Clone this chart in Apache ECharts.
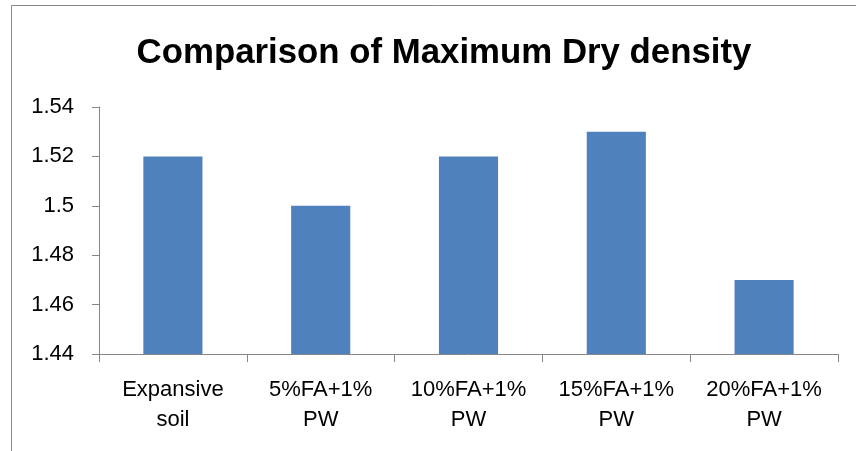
<!DOCTYPE html>
<html>
<head>
<meta charset="utf-8">
<script src="https://cdn.jsdelivr.net/npm/echarts@6/dist/echarts.min.js"></script>
<style>
  html, body { margin: 0; padding: 0; background: #fff; }
  #chart { width: 856px; height: 451px; }
</style>
</head>
<body>
<div id="chart"></div>
<script>
// Maximum dry density for each soil mix
const categories = ['Expansive soil', '5%FA+1% PW', '10%FA+1% PW', '15%FA+1% PW', '20%FA+1% PW'];
const densityValues = [1.52, 1.50, 1.52, 1.53, 1.47];
const yTicks = { min: 1.44, max: 1.54, step: 0.02 };

const chart = echarts.init(document.getElementById('chart'), null, { renderer: 'canvas' });
const font = 'Liberation Sans, Arial, sans-serif';
const axisGray = '#868686';

chart.setOption({
  animation: false,
  title: {
    text: 'Comparison of Maximum Dry density',
    left: 439,
    top: 31,
    textAlign: 'center',
    textStyle: { fontFamily: font, fontWeight: 'bold', fontSize: 34.8, color: '#000' }
  },
  graphic: [{
    type: 'rect',
    shape: { x: 11.5, y: 5.5, width: 900, height: 600 },
    style: { fill: 'none', stroke: '#878787', lineWidth: 1 },
    silent: true
  }],
  grid: { left: 99, right: 18, top: 107, bottom: 97, containLabel: false },
  xAxis: {
    type: 'category',
    data: categories,
    axisLine: { show: true, lineStyle: { color: axisGray, width: 1 } },
    axisTick: { show: true, length: 8, lineStyle: { color: axisGray } },
    axisLabel: {
      interval: 0,
      fontFamily: font, fontSize: 22, color: '#000', margin: 21, lineHeight: 30,
      formatter: v => v.replace(' ', '\n')
    },
    splitLine: { show: false }
  },
  yAxis: {
    type: 'value',
    min: yTicks.min,
    max: yTicks.max,
    interval: yTicks.step,
    axisLine: { show: true, lineStyle: { color: axisGray, width: 1 } },
    axisTick: { show: true, length: 7, lineStyle: { color: axisGray } },
    axisLabel: {
      fontFamily: font, fontSize: 22, color: '#000', margin: 25,
      formatter: v => String(parseFloat(v.toFixed(2)))
    },
    splitLine: { show: false }
  },
  series: [{
    type: 'bar',
    data: densityValues,
    barWidth: '40%',
    itemStyle: { color: '#4F81BD' }
  }]
});
</script>
</body>
</html>
